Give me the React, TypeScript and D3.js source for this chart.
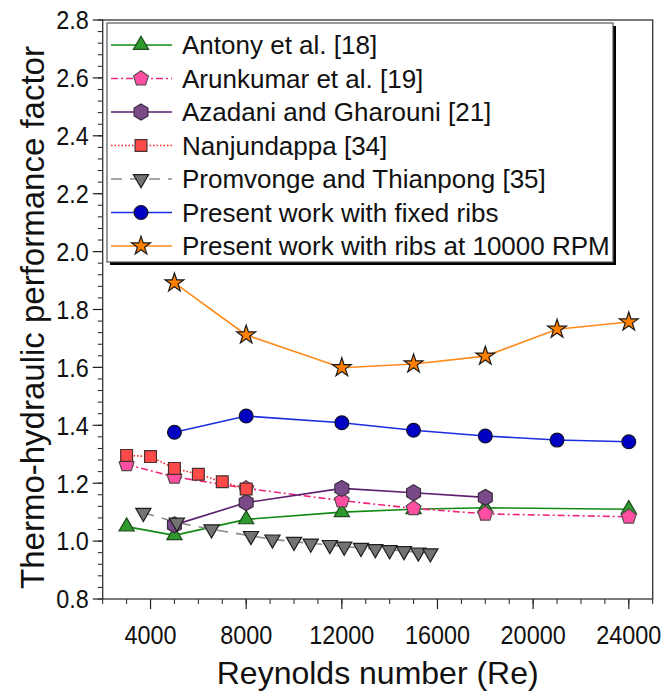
import React from 'react';
import * as d3 from 'd3';

// Reynolds numbers and thermo-hydraulic performance factor
const antonyRe = [3000, 5000, 8000, 12000, 15000, 18000, 24000];
const antonyTHPF = [1.05, 1.02, 1.075, 1.1, 1.11, 1.115, 1.11];

const arunRe = [3000, 5000, 8000, 12000, 15000, 18000, 24000];
const arunTHPF = [1.265, 1.222, 1.182, 1.14, 1.113, 1.094, 1.084];

const azadaniRe = [5000, 8000, 12000, 15000, 18000];
const azadaniTHPF = [1.056, 1.133, 1.182, 1.167, 1.151];

const nanjRe = [3000, 4000, 5000, 6000, 7000, 8000];
const nanjTHPF = [1.296, 1.292, 1.251, 1.231, 1.205, 1.18];

const promRe = [3700, 5100, 6550, 8200, 9100, 10000, 10700, 11500, 12100, 12800, 13400, 14000, 14600, 15200, 15700];
const promTHPF = [1.098, 1.064, 1.041, 1.018, 1.006, 0.998, 0.992, 0.987, 0.981, 0.977, 0.973, 0.969, 0.966, 0.961, 0.958];

const presentRe = [5000, 8000, 12000, 15000, 18000, 21000, 24000];
const fixedTHPF = [1.376, 1.432, 1.409, 1.383, 1.363, 1.349, 1.343];
const rpmTHPF = [1.892, 1.712, 1.599, 1.612, 1.639, 1.732, 1.757];

const xTickLabels = [4000, 8000, 12000, 16000, 20000, 24000];

const FONT = '"Liberation Sans", Arial, Helvetica, sans-serif';

// regular polygon path, pointy top
const polygon = (n, r) => {
    const pts = d3.range(n).map(i => {
        const a = -Math.PI / 2 + (i * 2 * Math.PI) / n;
        return [r * Math.cos(a), r * Math.sin(a)];
    });
    return 'M' + pts.map(p => p.join(',')).join('L') + 'Z';
};

const series = [
    { name: 'Antony et al. [18]', re: antonyRe, v: antonyTHPF, line: '#128a12', dash: null,
      fill: '#2e9a2e', stroke: '#1e4a1e', marker: d3.symbol().type(d3.symbolTriangle).size(100)(), rot: 0 },
    { name: 'Arunkumar et al. [19]', re: arunRe, v: arunTHPF, line: '#f0247c', dash: '7,3,2,3',
      fill: '#ff4fa3', stroke: '#5a4a50', marker: polygon(5, 7.8), rot: 0 },
    { name: 'Azadani and Gharouni [21]', re: azadaniRe, v: azadaniTHPF, line: '#5e1f6e', dash: null,
      fill: '#7a4a88', stroke: '#3a2a40', marker: polygon(6, 8), rot: 0 },
    { name: 'Nanjundappa [34]', re: nanjRe, v: nanjTHPF, line: '#ff2020', dash: '1.5,2',
      fill: '#ff4a4a', stroke: '#4a3030', marker: d3.symbol().type(d3.symbolSquare).size(140)(), rot: 0 },
    { name: 'Promvonge and Thianpong [35]', re: promRe, v: promTHPF, line: '#8a8a8a', dash: '11,8',
      fill: '#737373', stroke: '#1e1e1e', marker: d3.symbol().type(d3.symbolTriangle).size(100)(), rot: 180 },
    { name: 'Present work with fixed ribs', re: presentRe, v: fixedTHPF, line: '#1a2ee0', dash: null,
      fill: '#0000c4', stroke: '#10102a', marker: d3.symbol().type(d3.symbolCircle).size(150)(), rot: 0 },
    { name: 'Present work with ribs at 10000 RPM', re: presentRe, v: rpmTHPF, line: '#ff8a1a', dash: null,
      fill: '#ff8000', stroke: '#1a1a1a', marker: d3.symbol().type(d3.symbolStar).size(110)(), rot: 0 },
];

const App = () => {
    const left = 102.7, right = 652.7, top = 20, bottom = 599;

    const x = d3.scaleLinear().domain([2000, 25000]).range([left, right]);
    const y = d3.scaleLinear().domain([0.8, 2.8]).range([bottom, top]);

    const yMajor = y.ticks(10);
    const yMinor = d3.range(0, 51).map(i => 0.8 + i * 0.04);
    const xMinor = d3.range(2000, 25001, 1000);

    const legend = { x0: 107, y0: 23, x1: 613, y1: 262, row0: 45, step: 33.5 };

    return (
        <svg width={667} height={695} style={{ position: 'absolute', left: 0, top: 0, background: '#fff' }}
            fontFamily={FONT}>
            {/* minor ticks */}
            {yMinor.map((d, i) => (
                <line key={'ym' + i} x1={left - 5} x2={left} y1={y(d)} y2={y(d)} stroke="#222" strokeWidth={1} />
            ))}
            {yMajor.map(d => (
                <g key={'y' + d}>
                    <line x1={left - 10} x2={left} y1={y(d)} y2={y(d)} stroke="#222" strokeWidth={1.2} />
                    <text transform={`translate(${left - 14},${y(d)}) scale(0.9,1)`} dy="0.36em"
                        textAnchor="end" fontSize={26} fill="#111">
                        {d.toFixed(1)}
                    </text>
                </g>
            ))}
            {xMinor.map(d => (
                <line key={'xm' + d} x1={x(d)} x2={x(d)} y1={bottom} y2={bottom + 5} stroke="#222" strokeWidth={1} />
            ))}
            {xTickLabels.map(d => (
                <g key={'x' + d}>
                    <line x1={x(d)} x2={x(d)} y1={bottom} y2={bottom + 10} stroke="#222" strokeWidth={1.2} />
                    <text transform={`translate(${x(d)},${bottom + 45}) scale(0.9,1)`} textAnchor="middle"
                        fontSize={26} fill="#111">{d}</text>
                </g>
            ))}

            {/* frame */}
            <rect x={left} y={top} width={right - left} height={bottom - top} fill="none" stroke="#333" strokeWidth={1.3} />

            {/* series lines */}
            {series.map(s => {
                const pts = s.re.map((r, i) => [x(r), y(s.v[i])]);
                return (
                    <path key={'l' + s.name} d={d3.line()(pts)} fill="none" stroke={s.line}
                        strokeWidth={1.6} strokeDasharray={s.dash || undefined} />
                );
            })}
            {/* markers */}
            {series.map(s => (
                <g key={'m' + s.name}>
                    {s.re.map((r, i) => (
                        <path key={i} d={s.marker}
                            transform={`translate(${x(r)},${y(s.v[i])}) rotate(${s.rot})`}
                            fill={s.fill} stroke={s.stroke} strokeWidth={1.2} />
                    ))}
                </g>
            ))}

            {/* legend */}
            <rect x={legend.x0 + 3} y={legend.y0 + 3} width={legend.x1 - legend.x0} height={legend.y1 - legend.y0} fill="#000" />
            <rect x={legend.x0} y={legend.y0} width={legend.x1 - legend.x0} height={legend.y1 - legend.y0}
                fill="#fff" stroke="#555" strokeWidth={1.2} />
            {series.map((s, i) => {
                const cy = legend.row0 + i * legend.step;
                return (
                    <g key={'lg' + s.name}>
                        <line x1={111} x2={172} y1={cy} y2={cy} stroke={s.line} strokeWidth={1.6}
                            strokeDasharray={s.dash || undefined} />
                        <path d={s.marker} transform={`translate(141,${cy}) rotate(${s.rot})`}
                            fill={s.fill} stroke={s.stroke} strokeWidth={1.2} />
                        <text x={182} y={cy} dy="0.36em" fontSize={26} fill="#111">{s.name}</text>
                    </g>
                );
            })}

            {/* axis titles */}
            <text x={(left + right) / 2} y={684} textAnchor="middle" fontSize={32} fill="#111">
                Reynolds number (Re)
            </text>
            <text transform={`translate(44,${(top + bottom) / 2 + 8}) rotate(-90)`} textAnchor="middle"
                fontSize={33} fill="#111">
                Thermo-hydraulic performance factor
            </text>
        </svg>
    );
};

export default App;
